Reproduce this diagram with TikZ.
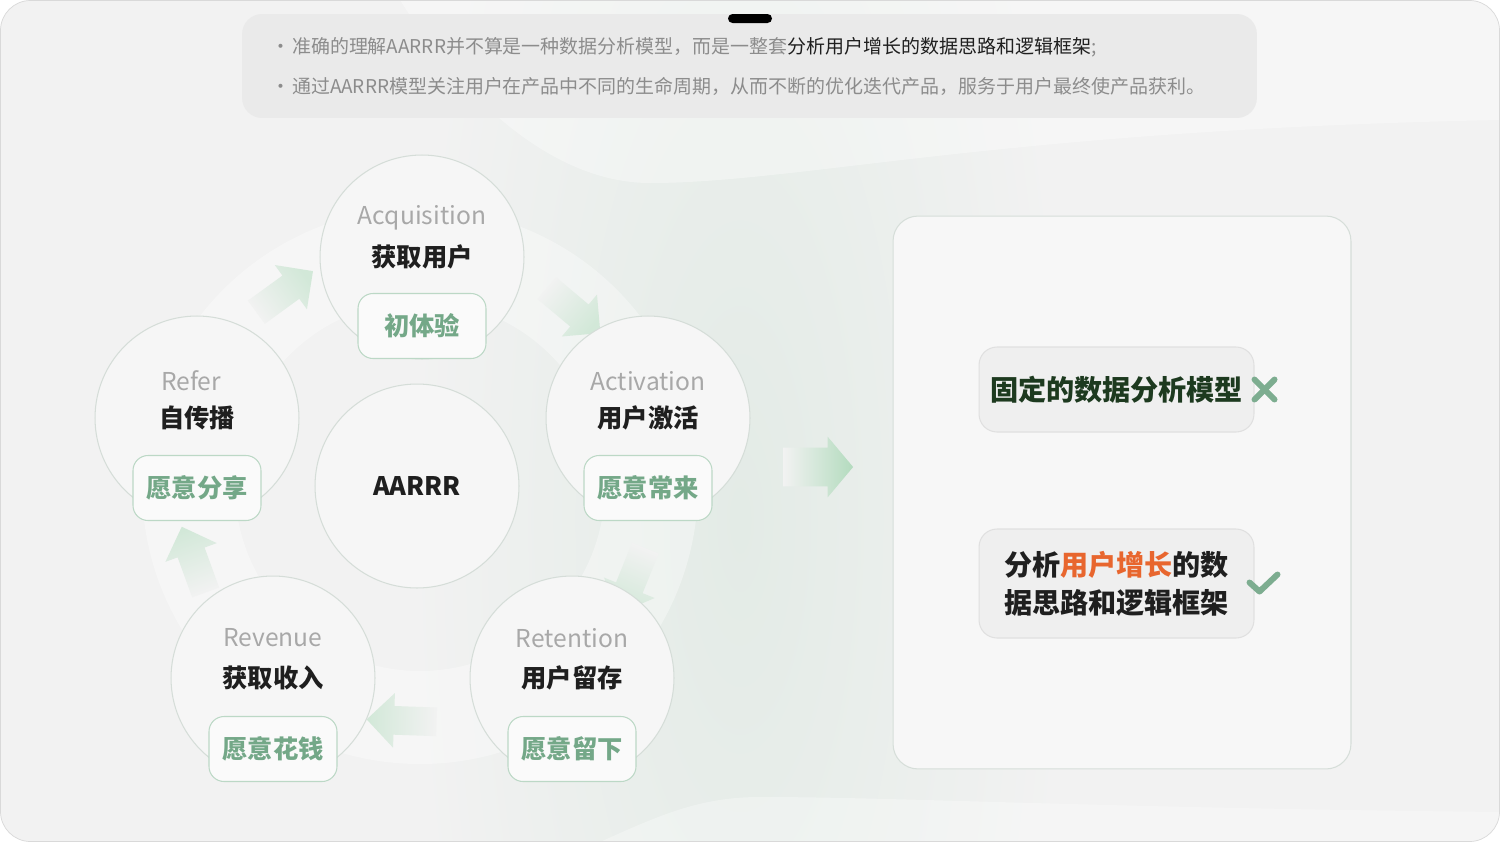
\documentclass[tikz,border=0pt]{standalone}
\usepackage{fontspec}
\setmainfont{Noto Sans CJK SC}
\definecolor{bgcol}{HTML}{F2F2F2}
\definecolor{bgedge}{HTML}{D9D9D9}
\definecolor{notefill}{HTML}{EAEAEA}
\definecolor{notegray}{HTML}{8C8C8C}
\definecolor{textdark}{HTML}{1F1F1F}
\definecolor{circlefill}{HTML}{F6F6F6}
\definecolor{circledraw}{HTML}{D5DDD8}
\definecolor{titlegray}{HTML}{A8A8A8}
\definecolor{taggreen}{HTML}{74A888}
\definecolor{tagdraw}{HTML}{BCD8C6}
\definecolor{tagfill}{HTML}{FAFAFA}
\definecolor{arrowgreen}{HTML}{B3DBBE}
\definecolor{flowgreen}{HTML}{D2E8D8}
\definecolor{greentint}{HTML}{E3EBE6}
\definecolor{panelfill}{HTML}{F7F7F7}
\definecolor{paneldraw}{HTML}{D6DED9}
\definecolor{boxfill}{HTML}{EFEFEF}
\definecolor{boxdraw}{HTML}{E0E0E0}
\definecolor{darkgreen}{HTML}{1D3A1F}
\definecolor{accent}{HTML}{E8662E}
\definecolor{markgreen}{HTML}{7DAD90}
\usepackage{tikz}
\usetikzlibrary{shapes.arrows,positioning,calc}

\begin{document}
\begin{tikzpicture}[
  x=0.02cm, y=-0.02cm,
  stage/.style={circle, draw=circledraw, fill=circlefill, line width=0.6pt,
    minimum size=4.08cm, inner sep=0pt},
  entitle/.style={font=\fontsize{14}{16}\selectfont, text=titlegray},
  cntitle/.style={font=\fontsize{14.4}{17}\selectfont\bfseries, text=textdark},
  tag/.style={rounded corners=0.3cm, draw=tagdraw, fill=tagfill, line width=0.6pt,
    minimum width=2.56cm, minimum height=1.3cm,
    font=\fontsize{14.4}{17}\selectfont\bfseries, text=taggreen},
  flow/.style={single arrow, draw=none, inner xsep=0pt, inner ysep=0.28cm,
    minimum height=1.4cm, single arrow head extend=0.26cm,
    top color=flowgreen, bottom color=bgcol},
  choice/.style={rounded corners=0.36cm, draw=boxdraw, fill=boxfill, line width=0.6pt,
    minimum width=5.5cm, font=\fontsize{16}{21.5}\selectfont\bfseries},
  tick/.style={markgreen, line width=3.4pt, line cap=round, line join=round}
]
  \useasboundingbox (0,0) rectangle (1500,842);

  % Background
  \fill[white] (0,0) rectangle (1500,842);
  \fill[bgcol, rounded corners=0.6cm] (0.5,0.5) rectangle (1499.5,841.5);
  \begin{scope}
    \clip[rounded corners=0.6cm] (0.5,0.5) rectangle (1499.5,841.5);
    \shade[inner color=greentint, outer color=bgcol] (740,520) ellipse [x radius=330, y radius=1000];
    \fill[white, opacity=0.35] (400,0) .. controls (470,110) and (560,183) .. (650,183)
      .. controls (800,183) and (1000,130) .. (1500,120) -- (1500,0) -- cycle;
    \fill[white, opacity=0.3] (600,842) .. controls (660,815) and (700,797) .. (760,797)
      .. controls (900,797) and (1100,808) .. (1500,812) -- (1500,842) -- cycle;
  \end{scope}
  \draw[bgedge, rounded corners=0.6cm] (0.5,0.5) rectangle (1499.5,841.5);

  % Notes on top
  \node[rounded corners=0.4cm, fill=notefill, minimum width=20.3cm, minimum height=2.08cm]
    (notes) at (749.5,66) {};
  \node[fill=black, rounded corners=0.09cm, minimum width=0.88cm, minimum height=0.18cm,
    inner sep=0pt] (handle) at (750,18.5) {};
  \node[anchor=west, inner sep=0pt, font=\fontsize{10.8}{13}\selectfont, text=notegray]
    (note1) at (271,47) {·\hspace{1pt}准确的理解AARRR并不算是一种数据分析模型，而是一整套\textcolor{textdark}{分析用户增长的数据思路和逻辑框架};};
  \node[anchor=west, inner sep=0pt, font=\fontsize{10.8}{13}\selectfont, text=notegray]
    (note2) at (271,86) {·\hspace{1pt}通过AARRR模型关注用户在产品中不同的生命周期，从而不断的优化迭代产品，服务于用户最终使产品获利。};

  % Faint ring behind the cycle
  \fill[white, opacity=0.35, even odd rule] (420,486) circle[radius=278] (420,486) circle[radius=185];

  % Centre
  \node[stage] (aarrr) at (417,486) {};
  \node[font=\fontsize{14.5}{16}\selectfont\bfseries, text=textdark] (aarrr-t) at (aarrr) {AARRR};

  % Flow arrows round the ring (angles turn clockwise on the page)
  \foreach \a/\b/\ang in {acq/act/-50, act/ret/22, ret/rev/92, rev/ref/160, ref/acq/234}
    \node[flow, rotate={-(\ang+90)}, shading angle={-(\ang+180)}] (f-\a-\b)
      at ($(aarrr)+(\ang:235)$) {};

  % Stages round the centre
  \node[stage] (acq) at (422,257) {};
  \node[stage] (act) at (648,418) {};
  \node[stage] (ret) at (572,678) {};
  \node[stage] (rev) at (273,678) {};
  \node[stage] (ref) at (197,418) {};

  \node[entitle] (acq-en) at ($(acq)+(0,-39)$) {Acquisition};
  \node[cntitle] (acq-cn) at (acq) {获取用户};
  \node[tag] (acq-tag) at ($(acq)+(0,69)$) {初体验};

  \node[entitle] (act-en) at ($(act)+(0,-37)$) {Activation};
  \node[cntitle] (act-cn) at (act) {用户激活};
  \node[tag] (act-tag) at ($(act)+(0,70)$) {愿意常来};

  \node[entitle] (ret-en) at ($(ret)+(0,-40)$) {Retention};
  \node[cntitle] (ret-cn) at (ret) {用户留存};
  \node[tag] (ret-tag) at ($(ret)+(0,71)$) {愿意留下};

  \node[entitle] (rev-en) at ($(rev)+(0,-40)$) {Revenue};
  \node[cntitle] (rev-cn) at (rev) {获取收入};
  \node[tag] (rev-tag) at ($(rev)+(0,71)$) {愿意花钱};

  \node[entitle] (ref-en) at ($(ref)+(-6,-37)$) {Refer};
  \node[cntitle] (ref-cn) at (ref) {自传播};
  \node[tag] (ref-tag) at ($(ref)+(0,70)$) {愿意分享};

  % Big arrow to the panel
  \node[single arrow, draw=none, inner xsep=0pt, inner ysep=0.38cm, minimum height=1.4cm,
    single arrow head extend=0.22cm, single arrow tip angle=100,
    left color=bgcol, right color=arrowgreen] (toright) at (810,467) {};

  % Panel on the right
  \node[rounded corners=0.5cm, draw=paneldraw, fill=panelfill, line width=0.6pt,
    minimum width=9.16cm, minimum height=11.06cm] (panel) at (1122,492.5) {};
  \node[choice, minimum height=1.7cm, text=darkgreen] (wrong) at (1116.5,389.5) {固定的数据分析模型};
  \node[choice, minimum height=2.18cm, align=center, text=textdark] (right) at (1116.5,583.5)
    {分析\textcolor{accent}{用户增长}的数\\据思路和逻辑框架};

  \coordinate (no) at ($(wrong.east)+(10,0)$);
  \draw[tick] ($(no)+(-10,-10)$) -- ($(no)+(10,10)$);
  \draw[tick] ($(no)+(-10,10)$) -- ($(no)+(10,-10)$);
  \coordinate (yes) at ($(right.east)+(9,0)$);
  \draw[tick] ($(yes)+(-14,-1)$) -- ($(yes)+(-4,8)$) -- ($(yes)+(14,-9)$);
\end{tikzpicture}
\end{document}
